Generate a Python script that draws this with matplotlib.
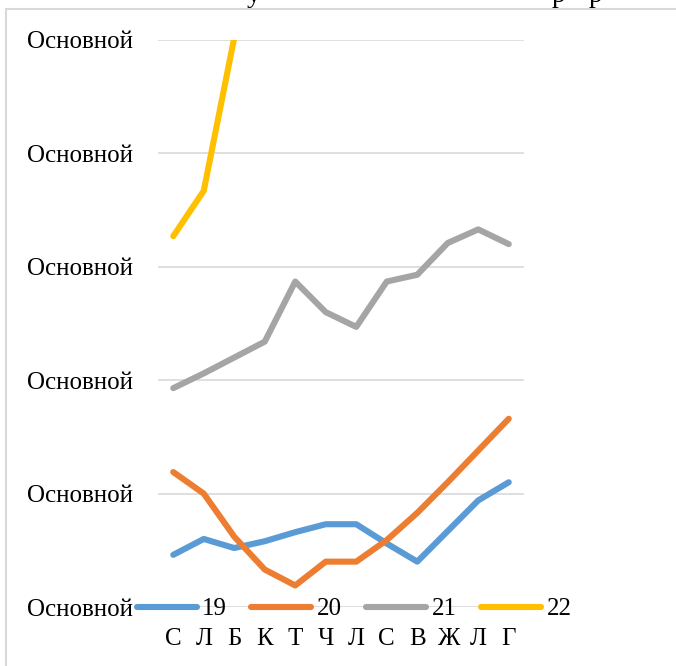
import matplotlib
matplotlib.use("Agg")
import matplotlib.pyplot as plt
from matplotlib.patches import Rectangle

months = ["С", "Л", "Б", "К", "Т", "Ч", "Л", "С", "В", "Ж", "Л", "Г"]
s19 = [0.46, 0.60, 0.52, 0.58, 0.66, 0.73, 0.73, 0.56, 0.40, 0.67, 0.94, 1.10]
s20 = [1.19, 1.00, 0.62, 0.33, 0.19, 0.40, 0.40, 0.59, 0.83, 1.10, 1.38, 1.66]
s21 = [1.93, 2.06, 2.20, 2.34, 2.87, 2.60, 2.47, 2.87, 2.93, 3.21, 3.33, 3.20]
s22 = [3.27, 3.67, 5.02]
names = ["19", "20", "21", "22"]
colors = ["#5B9BD5", "#ED7D31", "#A5A5A5", "#FFC000"]
ytick_label = "Основной"

plt.rcParams["font.family"] = ["Liberation Serif", "DejaVu Serif"]

fig = plt.figure(figsize=(6.76, 6.66), dpi=100)
ax = fig.add_axes([158 / 676, 59 / 666, 366 / 676, 567 / 666])

for data, name, c in zip([s19, s20, s21, s22], names, colors):
    ax.plot(range(len(data)), data, color=c, lw=4.4, label=name,
            solid_capstyle="round", solid_joinstyle="round", zorder=3)

ax.set_xlim(-0.5, 11.5)
ax.set_ylim(0, 5)
ax.set_yticks(range(6))
ax.set_yticklabels([ytick_label] * 6, fontsize=18)
ax.set_xticks(range(len(months)))
ax.set_xticklabels(months, fontsize=18)
ax.tick_params(axis="y", length=0, pad=18)
ax.tick_params(axis="x", length=0, pad=15)
ax.grid(axis="y", color="#D9D9D9", lw=1.2)
for sp in ax.spines.values():
    sp.set_visible(False)

fig.legend(loc="center", bbox_to_anchor=(354 / 676, 1 - 609 / 666), ncol=4,
           frameon=False, fontsize=18, handlelength=2.4, handletextpad=0.2,
           columnspacing=1.0, borderpad=0)

# chart border and clipped title
fig.patches.append(Rectangle((6 / 676, -0.5), 2.0, 1.5 - 9 / 666,
                             transform=fig.transFigure, fill=False,
                             edgecolor="#D9D9D9", lw=1.5))
for x, ch in [(254, "у"), (559, "р"), (596, "р")]:
    fig.text(x / 676, 0.997, ch, fontsize=20, ha="center", va="baseline")

fig.savefig("out.png", dpi=100)
